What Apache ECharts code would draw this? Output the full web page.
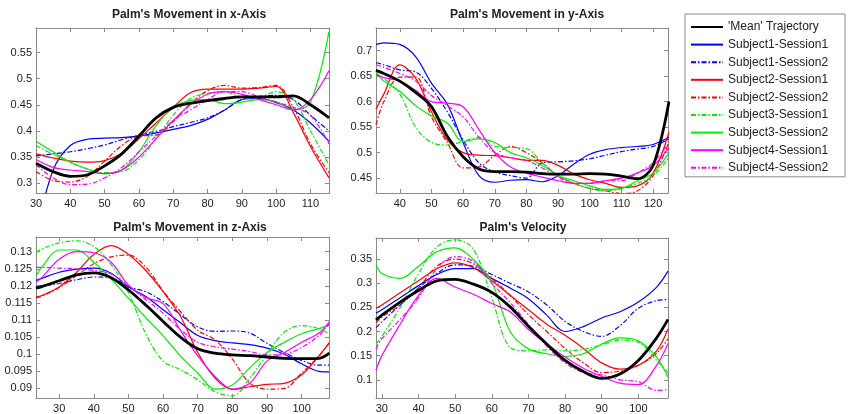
<!DOCTYPE html>
<html>
<head>
<meta charset="UTF-8">
<title>Palm movement</title>
<script src="https://cdn.jsdelivr.net/npm/echarts@6/dist/echarts.min.js"></script>
<style>
html, body { margin: 0; padding: 0; background: #fff; }
#chart { width: 849px; height: 414px; }
</style>
</head>
<body>
<div id="chart"></div>
<script>
const names = ["'Mean' Trajectory", 'Subject1-Session1', 'Subject1-Session2', 'Subject2-Session1', 'Subject2-Session2',
  'Subject3-Session1', 'Subject3-Session2', 'Subject4-Session1', 'Subject4-Session2'];

// sample positions (time) per panel
const posX = [30,35,40,45,50,55,60,65,70,75,80,85,90,95,100,105,110,115.4];
const posY = [32.5,35,40,45,50,55,60,65,70,75,80,85,90,95,100,105,110,115,120,125];
const posZ = [23.3,25,30,35,40,45,50,55,60,65,70,75,80,85,90,95,100,105,108];
const posV = [28.4,30,35,40,45,50,55,60,65,70,75,80,85,90,95,100,105,108.1];

// Palm's Movement in x-Axis
const xMean = [0.338,0.322,0.313,0.316,0.333,0.356,0.39,0.425,0.445,0.453,0.458,0.462,0.465,0.465,0.465,0.467,0.45,0.425];
const xS1S1 = [0.2,0.325,0.372,0.384,0.386,0.387,0.39,0.396,0.403,0.41,0.422,0.44,0.46,0.462,0.454,0.44,0.415,0.38];
const xS1S2 = [0.352,0.356,0.36,0.366,0.373,0.383,0.392,0.399,0.408,0.416,0.425,0.44,0.46,0.466,0.468,0.46,0.43,0.4];
const xS2S1 = [0.356,0.348,0.342,0.34,0.343,0.357,0.385,0.415,0.445,0.473,0.48,0.48,0.48,0.482,0.485,0.435,0.37,0.31];
const xS2S2 = [0.322,0.305,0.302,0.313,0.342,0.372,0.39,0.392,0.418,0.452,0.477,0.487,0.482,0.483,0.487,0.445,0.375,0.32];
const xS3S1 = [0.372,0.355,0.34,0.327,0.32,0.322,0.345,0.385,0.43,0.462,0.472,0.475,0.465,0.465,0.475,0.46,0.4,0.335];
const xS3S2 = [0.38,0.36,0.34,0.327,0.318,0.325,0.36,0.41,0.445,0.458,0.46,0.452,0.455,0.46,0.456,0.44,0.455,0.59];
const xS4S1 = [0.345,0.33,0.325,0.322,0.318,0.325,0.35,0.385,0.42,0.45,0.47,0.475,0.47,0.46,0.45,0.44,0.46,0.515];
const xS4S2 = [0.335,0.31,0.297,0.298,0.31,0.33,0.36,0.39,0.42,0.44,0.46,0.475,0.475,0.465,0.455,0.445,0.43,0.375];

// Palm's Movement in y-Axis
const yMean = [0.661,0.655,0.64,0.618,0.59,0.532,0.492,0.468,0.463,0.463,0.462,0.459,0.458,0.458,0.459,0.458,0.454,0.449,0.475,0.6];
const yS1S1 = [0.712,0.715,0.712,0.688,0.636,0.595,0.52,0.455,0.442,0.446,0.447,0.443,0.455,0.478,0.497,0.506,0.51,0.512,0.516,0.53];
const yS1S2 = [0.676,0.672,0.662,0.658,0.626,0.58,0.525,0.48,0.462,0.455,0.45,0.48,0.482,0.484,0.488,0.495,0.502,0.507,0.512,0.527];
const yS2S1 = [0.585,0.615,0.672,0.646,0.58,0.525,0.5,0.495,0.494,0.49,0.485,0.485,0.475,0.458,0.447,0.44,0.432,0.435,0.46,0.54];
const yS2S2 = [0.555,0.6,0.648,0.648,0.57,0.52,0.47,0.472,0.495,0.512,0.5,0.48,0.455,0.44,0.43,0.425,0.42,0.425,0.455,0.52];
const yS3S1 = [0.655,0.645,0.615,0.55,0.52,0.515,0.522,0.53,0.512,0.51,0.508,0.48,0.455,0.44,0.43,0.425,0.43,0.44,0.455,0.49];
const yS3S2 = [0.658,0.64,0.62,0.592,0.572,0.558,0.522,0.527,0.52,0.5,0.49,0.475,0.455,0.445,0.435,0.428,0.43,0.445,0.46,0.5];
const yS4S1 = [0.652,0.647,0.64,0.622,0.6,0.597,0.59,0.545,0.5,0.472,0.46,0.452,0.445,0.44,0.44,0.445,0.45,0.46,0.475,0.51];
const yS4S2 = [0.672,0.667,0.655,0.64,0.612,0.592,0.57,0.53,0.5,0.49,0.485,0.47,0.452,0.44,0.44,0.445,0.445,0.46,0.48,0.52];

// Palm's Movement in z-Axis
const zMean = [0.1193,0.1198,0.1215,0.1232,0.1238,0.1224,0.1188,0.1144,0.1096,0.105,0.1016,0.1003,0.0998,0.0996,0.0992,0.0988,0.0987,0.0988,0.1003];
const zS1S1 = [0.1216,0.1222,0.124,0.1249,0.1252,0.1237,0.1197,0.1169,0.113,0.1092,0.1055,0.104,0.1033,0.1028,0.1018,0.1,0.0972,0.095,0.0948];
const zS1S2 = [0.1199,0.12,0.1207,0.1218,0.1226,0.1224,0.1197,0.1183,0.1154,0.1116,0.108,0.1067,0.1068,0.1062,0.1032,0.1005,0.0982,0.0968,0.0968];
const zS2S1 = [0.1167,0.1172,0.1197,0.124,0.1292,0.1318,0.1292,0.1245,0.1183,0.1111,0.1005,0.093,0.0897,0.0905,0.0912,0.0915,0.094,0.0995,0.1033];
const zS2S2 = [0.1165,0.117,0.1195,0.123,0.1265,0.1285,0.129,0.1255,0.1185,0.1125,0.107,0.1042,0.0986,0.0916,0.0898,0.09,0.0945,0.0995,0.1035];
const zS3S1 = [0.1297,0.1308,0.1326,0.1332,0.1315,0.1262,0.118,0.106,0.098,0.0955,0.0925,0.089,0.0878,0.093,0.1,0.1065,0.1084,0.1075,0.106];
const zS3S2 = [0.1228,0.1255,0.1305,0.1305,0.1269,0.122,0.1164,0.1107,0.1054,0.0995,0.0945,0.0898,0.091,0.096,0.1005,0.1035,0.106,0.1075,0.1085];
const zS4S1 = [0.1211,0.1225,0.1278,0.13,0.1297,0.1269,0.1202,0.1166,0.1148,0.107,0.0995,0.0935,0.0898,0.0915,0.098,0.1005,0.1035,0.1062,0.1095];
const zS4S2 = [0.1254,0.1254,0.1252,0.125,0.1245,0.1235,0.12,0.116,0.112,0.1072,0.1035,0.1022,0.1015,0.1008,0.0998,0.1,0.102,0.1055,0.109];

// Palm's Velocity
const vMean = [0.224,0.234,0.261,0.285,0.305,0.308,0.298,0.281,0.251,0.211,0.174,0.14,0.117,0.103,0.112,0.14,0.187,0.225];
const vS1S1 = [0.238,0.245,0.27,0.295,0.318,0.33,0.33,0.31,0.29,0.268,0.234,0.2,0.21,0.228,0.241,0.261,0.292,0.325];
const vS1S2 = [0.208,0.22,0.255,0.29,0.32,0.338,0.335,0.318,0.3,0.282,0.255,0.221,0.2,0.19,0.212,0.248,0.264,0.266];
const vS2S1 = [0.248,0.255,0.28,0.305,0.33,0.342,0.332,0.305,0.275,0.245,0.215,0.192,0.165,0.135,0.122,0.13,0.16,0.205];
const vS2S2 = [0.218,0.23,0.255,0.29,0.335,0.35,0.34,0.31,0.275,0.235,0.2,0.165,0.135,0.115,0.118,0.13,0.155,0.185];
const vS3S1 = [0.174,0.19,0.25,0.32,0.375,0.39,0.37,0.27,0.167,0.16,0.162,0.16,0.163,0.172,0.182,0.178,0.14,0.115];
const vS3S2 = [0.339,0.32,0.31,0.335,0.365,0.373,0.349,0.302,0.2,0.164,0.154,0.148,0.154,0.174,0.187,0.181,0.147,0.105];
const vS4S1 = [0.12,0.15,0.215,0.275,0.31,0.292,0.277,0.258,0.241,0.204,0.174,0.147,0.124,0.107,0.093,0.09,0.13,0.175];
const vS4S2 = [0.164,0.185,0.225,0.27,0.33,0.355,0.345,0.3,0.26,0.215,0.17,0.135,0.115,0.11,0.1,0.096,0.078,0.08];

// tick labels
const ticksX1 = [30,40,50,60,70,80,90,100,110];
const ticksY1 = [0.3,0.35,0.4,0.45,0.5,0.55];
const ticksX2 = [40,50,60,70,80,90,100,110,120];
const ticksY2 = [0.45,0.5,0.55,0.6,0.65,0.7];
const ticksX3 = [30,40,50,60,70,80,90,100];
const ticksY3 = [0.09,0.095,0.1,0.105,0.11,0.115,0.12,0.125,0.13];
const ticksX4 = [30,40,50,60,70,80,90,100];
const ticksY4 = [0.1,0.15,0.2,0.25,0.3,0.35];

const panels = [
  { title: "Palm's Movement in x-Axis", pos: posX, curves: [xMean,xS1S1,xS1S2,xS2S1,xS2S2,xS3S1,xS3S2,xS4S1,xS4S2],
    xr: [30, 115.4], yr: [0.281, 0.597], xt: ticksX1, yt: ticksY1,
    grid: { left: 36, top: 28, width: 293, height: 165 }, tx: 184, ty: 4 },
  { title: "Palm's Movement in y-Axis", pos: posY, curves: [yMean,yS1S1,yS1S2,yS2S1,yS2S2,yS3S1,yS3S2,yS4S1,yS4S2],
    xr: [32.5, 124.7], yr: [0.421, 0.744], xt: ticksX2, yt: ticksY2,
    grid: { left: 376, top: 28, width: 292, height: 165 }, tx: 522, ty: 4 },
  { title: "Palm's Movement in z-Axis", pos: posZ, curves: [zMean,zS1S1,zS1S2,zS2S1,zS2S2,zS3S1,zS3S2,zS4S1,zS4S2],
    xr: [23.3, 107.9], yr: [0.0872, 0.1343], xt: ticksX3, yt: ticksY3,
    grid: { left: 36, top: 237, width: 293, height: 165 }, tx: 185, ty: 217 },
  { title: "Palm's Velocity", pos: posV, curves: [vMean,vS1S1,vS1S2,vS2S1,vS2S2,vS3S1,vS3S2,vS4S1,vS4S2],
    xr: [28.4, 108.1], yr: [0.0623, 0.3936], xt: ticksX4, yt: ticksY4,
    grid: { left: 376, top: 238, width: 292, height: 164 }, tx: 518, ty: 217 }
];

const dashDot = [5, 2, 1.5, 2];
const styles = [
  { color: '#000000', width: 2.8, type: 'solid' },
  { color: '#0000ff', width: 1.2, type: 'solid' },
  { color: '#0000ff', width: 1.2, type: dashDot },
  { color: '#ff0000', width: 1.2, type: 'solid' },
  { color: '#ff0000', width: 1.2, type: dashDot },
  { color: '#00ee00', width: 1.2, type: dashDot },
  { color: '#00ee00', width: 1.2, type: 'solid' },
  { color: '#ff00ff', width: 1.2, type: 'solid' },
  { color: '#ff00ff', width: 1.2, type: dashDot }
];

const boxColor = '#8a8a8a';
const fmt = v => String(parseFloat(Number(v).toFixed(4)));

const grids = [], xAxes = [], yAxes = [], series = [], titles = [];
panels.forEach((p, i) => {
  grids.push(p.grid);
  titles.push({ text: p.title, left: p.tx, top: p.ty, textAlign: 'center',
    textStyle: { fontFamily: 'Liberation Sans, Arial', fontSize: 12, fontWeight: 'bold', color: '#222' } });
  const common = { gridIndex: i, type: 'value', splitLine: { show: false },
    axisLine: { show: true, onZero: false, lineStyle: { color: boxColor, width: 1 } } };
  xAxes.push(Object.assign({}, common, { position: 'bottom', min: p.xr[0], max: p.xr[1],
    axisTick: { show: true, inside: true, length: 4, customValues: p.xt, lineStyle: { color: boxColor } },
    axisLabel: { customValues: p.xt, formatter: fmt, margin: 5, fontSize: 11, color: '#222', fontFamily: 'Liberation Sans, Arial' } }));
  xAxes.push(Object.assign({}, common, { position: 'top', min: p.xr[0], max: p.xr[1],
    axisTick: { show: true, inside: true, length: 4, customValues: p.xt, lineStyle: { color: boxColor } },
    axisLabel: { show: false } }));
  yAxes.push(Object.assign({}, common, { position: 'left', min: p.yr[0], max: p.yr[1],
    axisTick: { show: true, inside: true, length: 4, customValues: p.yt, lineStyle: { color: boxColor } },
    axisLabel: { customValues: p.yt, formatter: fmt, margin: 4, fontSize: 11, color: '#222', fontFamily: 'Liberation Sans, Arial' } }));
  yAxes.push(Object.assign({}, common, { position: 'right', min: p.yr[0], max: p.yr[1],
    axisTick: { show: true, inside: true, length: 4, customValues: p.yt, lineStyle: { color: boxColor } },
    axisLabel: { show: false } }));
  p.curves.forEach((vals, k) => {
    series.push({
      name: names[k], type: 'line', xAxisIndex: 2 * i, yAxisIndex: 2 * i,
      data: vals.map((v, j) => [p.pos[j], v]),
      smooth: 0.35, symbol: 'none', showSymbol: false, clip: true,
      z: k === 0 ? 3 : 2,
      itemStyle: { color: styles[k].color },
      lineStyle: { color: styles[k].color, width: styles[k].width, type: styles[k].type }
    });
  });
});

const chart = echarts.init(document.getElementById('chart'), null, { renderer: 'canvas' });
chart.setOption({
  animation: false,
  backgroundColor: '#ffffff',
  title: titles,
  grid: grids,
  xAxis: xAxes,
  yAxis: yAxes,
  legend: {
    data: names, orient: 'vertical', left: 685, top: 14,
    padding: [7, 17, 3, 5], itemGap: 5.6, itemWidth: 32, itemHeight: 14,
    itemStyle: { opacity: 0 },
    borderColor: boxColor, borderWidth: 1, backgroundColor: '#ffffff',
    textStyle: { fontFamily: 'Liberation Sans, Arial', fontSize: 12, color: '#222' }
  },
  series: series
});
</script>
</body>
</html>
